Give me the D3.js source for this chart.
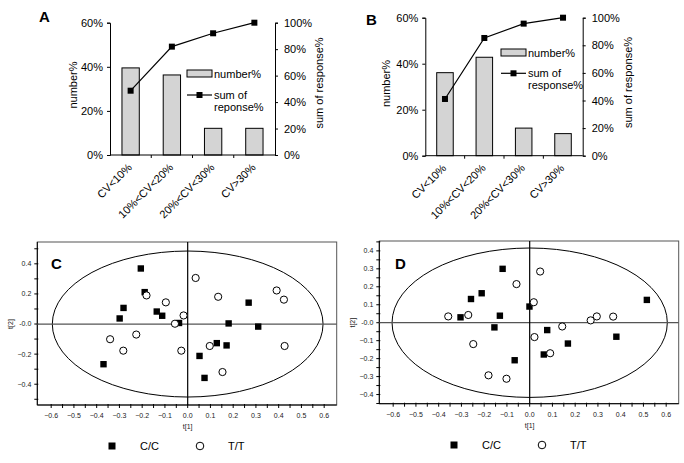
<!DOCTYPE html>
<html><head><meta charset="utf-8">
<script src="https://cdn.jsdelivr.net/npm/d3@7"></script>
<style>
body{margin:0;background:#fff;}
text{font-family:"Liberation Sans",Arial,sans-serif;}
</style></head>
<body><svg id="chart" width="684" height="463"></svg>
<script>
// ---- Data ----
const categories = ["CV<10%","10%<CV<20%","20%<CV<30%","CV>30%"];
const numberA = [0.395,0.363,0.121,0.121];
const sumA = [0.486,0.819,0.92,1.0];
const numberB = [0.361,0.428,0.120,0.096];
const sumB = [0.411,0.853,0.957,1.0];
const leftTicks = [0,0.2,0.4,0.6];
const rightTicks = [0,0.2,0.4,0.6,0.8,1.0];

const ccC = [[-0.206,0.369],[-0.189,0.212],[-0.282,0.107],[-0.299,0.037],[-0.136,0.083],[-0.112,0.055],[-0.038,0.007],[0.268,0.142],[0.18,0.004],[0.31,-0.017],[0.128,-0.127],[0.171,-0.142],[0.052,-0.212],[0.074,-0.358],[-0.37,-0.267]];
const ttC = [[-0.181,0.19],[-0.096,0.144],[-0.018,0.057],[-0.056,0.002],[0.035,0.306],[0.134,0.181],[0.391,0.223],[0.423,0.162],[0.426,-0.146],[0.097,-0.146],[0.153,-0.319],[-0.028,-0.177],[-0.226,-0.07],[-0.341,-0.101],[-0.283,-0.177]];
const ccD = [[-0.119,0.30],[-0.211,0.164],[-0.258,0.132],[-0.304,0.03],[-0.131,0.039],[-0.155,-0.026],[-0.001,0.09],[0.077,-0.041],[0.062,-0.177],[0.168,-0.116],[-0.066,-0.209],[0.381,-0.078],[0.515,0.127]];
const ttD = [[-0.358,0.035],[-0.27,0.043],[-0.248,-0.119],[-0.058,0.215],[0.046,0.285],[0.018,0.114],[0.021,-0.08],[0.143,-0.021],[0.268,0.013],[0.295,0.035],[0.367,0.034],[0.09,-0.17],[-0.181,-0.293],[-0.102,-0.312]];
const ellipseC = [0.595,0.485];
const ellipseD = [0.605,0.416];
const groups = ["C/C","T/T"];

const svg = d3.select("#chart");
const pct = d3.format(".0%");

function barPanel(o){
  const g = svg.append("g");
  const x = d3.scaleBand().domain(categories).range([o.l,o.r]).paddingInner(0.58).paddingOuter(0.29);
  const y = d3.scaleLinear().domain([0,0.6]).range([o.b,o.t]);
  const y2 = d3.scaleLinear().domain([0,1]).range([o.b,o.t]);
  g.selectAll("rect.bar").data(o.num).join("rect")
    .attr("x",(d,i)=>x(categories[i])).attr("y",d=>y(d))
    .attr("width",x.bandwidth()).attr("height",d=>o.b-y(d))
    .attr("fill","#d4d4d4").attr("stroke","#000").attr("stroke-width",1);
  const la = g.append("g").attr("transform",`translate(${o.l},0)`)
    .call(d3.axisLeft(y).tickValues(leftTicks).tickFormat(pct).tickSize(3).tickPadding(4));
  const ra = g.append("g").attr("transform",`translate(${o.r},0)`)
    .call(d3.axisRight(y2).tickValues(rightTicks).tickFormat(pct).tickSize(3).tickPadding(6));
  [la,ra].forEach(a=>{a.selectAll("text").attr("font-size",11).attr("fill","#000").style("font-family","Liberation Sans, Arial");
    a.select(".domain").attr("stroke","#000"); a.selectAll("line").attr("stroke","#000");});
  // bottom axis
  g.append("line").attr("x1",o.l).attr("x2",o.r).attr("y1",o.b).attr("y2",o.b).attr("stroke","#000");
  const step = x.step();
  categories.slice(1).forEach((c,i)=>{
    const xx = x(c) - x.paddingInner()*step/2;
    g.append("line").attr("x1",xx).attr("x2",xx).attr("y1",o.b).attr("y2",o.b+3).attr("stroke","#000");
  });
  categories.forEach(c=>{
    const cx = x(c)+x.bandwidth()/2;
    g.append("text").attr("text-anchor","end").attr("font-size",11)
      .attr("transform",`translate(${cx+2},${o.b+13}) rotate(-45)`).text(c);
  });
  // line
  const line = d3.line().x((d,i)=>x(categories[i])+x.bandwidth()/2).y(d=>y2(d));
  g.append("path").attr("d",line(o.sum)).attr("fill","none").attr("stroke","#000").attr("stroke-width",1.2);
  g.selectAll("rect.pt").data(o.sum).join("rect").attr("class","pt")
    .attr("x",(d,i)=>x(categories[i])+x.bandwidth()/2-3).attr("y",d=>y2(d)-3)
    .attr("width",6).attr("height",6).attr("fill","#000");
  // titles
  g.append("text").attr("transform",`translate(${o.ytx},${o.yty}) rotate(-90)`).attr("text-anchor","middle")
    .attr("dominant-baseline","central").attr("font-size",11).text("number%");
  g.append("text").attr("transform",`translate(${o.y2tx},${o.y2ty}) rotate(-90)`).attr("text-anchor","middle")
    .attr("dominant-baseline","central").attr("font-size",11).text("sum of response%");
  g.append("text").attr("x",o.lx).attr("y",o.ly).attr("font-size",15).attr("font-weight","bold").text(o.letter);
  // legend
  const L = o.leg;
  g.append("rect").attr("x",L.x).attr("y",L.y1-3.5).attr("width",25).attr("height",7).attr("fill","#d4d4d4").attr("stroke","#000");
  g.append("text").attr("x",L.x+27).attr("y",L.y1+4).attr("font-size",11).text("number%");
  g.append("line").attr("x1",L.x).attr("x2",L.x+25).attr("y1",L.y2).attr("y2",L.y2).attr("stroke","#000").attr("stroke-width",1.2);
  g.append("rect").attr("x",L.x+12.5-3).attr("y",L.y2-3).attr("width",6).attr("height",6).attr("fill","#000");
  g.append("text").attr("x",L.x+27).attr("y",L.y2+4).attr("font-size",11).text("sum of");
  g.append("text").attr("x",L.x+27).attr("y",L.y2+16).attr("font-size",11).text(L.t2);
}

barPanel({l:110,r:275,t:22.7,b:155,num:numberA,sum:sumA,ytx:72.5,yty:85,y2tx:319,y2ty:83,lx:39,ly:22,letter:"A",
  leg:{x:187,y1:73.5,y2:95,t2:"reponse%"}});
barPanel({l:425.3,r:582.7,t:17.7,b:155.7,num:numberB,sum:sumB,ytx:386,yty:83.5,y2tx:628,y2ty:82.5,lx:366,ly:25,letter:"B",
  leg:{x:501,y1:52.5,y2:73.3,t2:"response%"}});

function scatterPanel(o){
  const g = svg.append("g");
  const x = d3.scaleLinear().domain(o.xlim).range([o.l,o.r]);
  const y = d3.scaleLinear().domain(o.ylim).range([o.b,o.t]);
  g.append("rect").attr("x",o.l).attr("y",o.t).attr("width",o.r-o.l).attr("height",o.b-o.t)
    .attr("fill","none").attr("stroke","#555").attr("stroke-width",1);
  g.append("line").attr("x1",o.l).attr("x2",o.r).attr("y1",o.b).attr("y2",o.b).attr("stroke","#000");
  g.append("line").attr("x1",o.l).attr("x2",o.l).attr("y1",o.t).attr("y2",o.b).attr("stroke","#000");
  // x ticks
  const xt = d3.range(-12,13).map(i=>i*0.05);
  xt.forEach(v=>{
    g.append("line").attr("x1",x(v)).attr("x2",x(v)).attr("y1",o.b-1).attr("y2",o.b+3).attr("stroke","#000");
  });
  xt.filter((v,i)=>i%2===0).forEach(v=>{
    g.append("text").attr("x",x(v)).attr("y",o.b+13).attr("text-anchor","middle").attr("font-size",7).attr("fill","#222")
      .text(d3.format(".1f")(Math.abs(v)<1e-9?0:v));
  });
  o.yminor.forEach(v=>{
    g.append("line").attr("x1",o.l-3).attr("x2",o.l+1).attr("y1",y(v)).attr("y2",y(v)).attr("stroke","#000");
  });
  o.ylab.forEach(v=>{
    g.append("text").attr("x",o.l-6).attr("y",y(v)).attr("dy","0.35em").attr("text-anchor","end").attr("font-size",7).attr("fill","#222")
      .text(Math.abs(v)<1e-9?"-0.0":d3.format(".1f")(v));
  });
  g.append("text").attr("x",x(0)).attr("y",o.b+24).attr("text-anchor","middle").attr("font-size",7).attr("fill","#222").text("t[1]");
  g.append("text").attr("transform",`translate(${o.l-24},${y(0)}) rotate(-90)`).attr("text-anchor","middle").attr("font-size",7).attr("fill","#222").text("t[2]");
  // ellipse
  g.append("ellipse").attr("cx",x(0)).attr("cy",y(0)).attr("rx",x(o.ell[0])-x(0)).attr("ry",y(0)-y(o.ell[1]))
    .attr("fill","none").attr("stroke","#000").attr("stroke-width",1);
  g.append("line").attr("x1",o.l).attr("x2",o.r).attr("y1",y(0)).attr("y2",y(0)).attr("stroke","#555").attr("stroke-width",1.2);
  g.append("line").attr("x1",x(0)).attr("x2",x(0)).attr("y1",o.t).attr("y2",o.b).attr("stroke","#000").attr("stroke-width",1.2);
  g.selectAll("rect.cc").data(o.cc).join("rect").attr("class","cc")
    .attr("x",d=>x(d[0])-3.2).attr("y",d=>y(d[1])-3.2).attr("width",6.4).attr("height",6.4).attr("fill","#000");
  g.selectAll("circle.tt").data(o.tt).join("circle").attr("class","tt")
    .attr("cx",d=>x(d[0])).attr("cy",d=>y(d[1])).attr("r",3.6).attr("fill","#fff").attr("stroke","#000").attr("stroke-width",1);
  g.append("text").attr("x",o.lx).attr("y",o.ly).attr("font-size",15).attr("font-weight","bold").text(o.letter);
  // legend
  const ly = o.legy;
  g.append("rect").attr("x",o.legx-3.5).attr("y",ly-3.5).attr("width",7).attr("height",7).attr("fill","#000");
  g.append("text").attr("x",o.legx+28).attr("y",ly+4).attr("font-size",11).text(groups[0]);
  g.append("circle").attr("cx",o.legx+88).attr("cy",ly).attr("r",3.8).attr("fill","#fff").attr("stroke","#000");
  g.append("text").attr("x",o.legx+116).attr("y",ly+4).attr("font-size",11).text(groups[1]);
}

scatterPanel({l:37.3,r:336.7,t:242,b:405,xlim:[-0.661,0.655],ylim:[-0.538,0.545],
  yminor:d3.range(-5,6).map(i=>i*0.1),ylab:[0.4,0.2,0,-0.2,-0.4],ell:ellipseC,cc:ccC,tt:ttC,
  lx:51,ly:269,letter:"C",legx:112,legy:446});
scatterPanel({l:379.3,r:678.7,t:241,b:403.7,xlim:[-0.661,0.655],ylim:[-0.451,0.455],
  yminor:d3.range(-9,10).map(i=>i*0.05),ylab:[0.4,0.3,0.2,0.1,0,-0.1,-0.2,-0.3,-0.4],ell:ellipseD,cc:ccD,tt:ttD,
  lx:395,ly:269,letter:"D",legx:454,legy:445});
</script></body></html>
